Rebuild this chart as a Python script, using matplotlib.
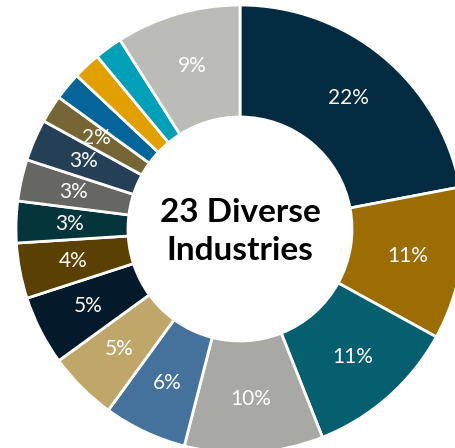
"""
Donut chart of portfolio industry mix.
"""

import matplotlib
matplotlib.use('Agg')
import matplotlib.pyplot as plt
import numpy as np

# share of portfolio by industry, clockwise from 12 o'clock
shares = [22, 11, 11, 10, 6, 5, 5, 4, 3, 3, 3, 2, 2, 2, 2, 9]
labels = ['22%', '11%', '11%', '10%', '6%', '5%', '5%', '4%',
          '3%', '3%', '3%', '2%', '', '', '', '9%']
colors = ['#022B41', '#9C6D02', '#065F6E', '#A8A8A4', '#44729C', '#BFA76A',
          '#021A29', '#5A4002', '#03353A', '#666663', '#253F56', '#766636',
          '#04659A', '#E29F00', '#00A0B8', '#BCBCB7']
center_text = '23 Diverse\nIndustries'

fig = plt.figure(figsize=(4.56, 4.48), dpi=100)
ax = fig.add_axes([0, 0, 1, 1])

wedges, _ = ax.pie(shares, colors=colors, startangle=90, counterclock=False,
                   radius=1.0,
                   wedgeprops=dict(width=0.5, edgecolor='white', linewidth=2))

# put the percentage labels in the middle of the ring
for w, lab in zip(wedges, labels):
    if not lab:
        continue
    ang = np.deg2rad((w.theta1 + w.theta2) / 2)
    r = 0.76
    ax.text(r * np.cos(ang), r * np.sin(ang), lab, ha='center', va='center',
            color='white', fontsize=15, family='Lato')

ax.text(0, -0.01, center_text, ha='center', va='center', fontsize=24,
        fontweight='bold', family='Lato', color='black', linespacing=1.38)

# ring is cropped on the right and bottom like the original slide
ax.set_xlim(-240 / 224, (456 - 240) / 224)
ax.set_ylim((229 - 448) / 224, 229 / 224)
ax.set_aspect('equal')
ax.axis('off')

fig.savefig('out.png', dpi=100)
